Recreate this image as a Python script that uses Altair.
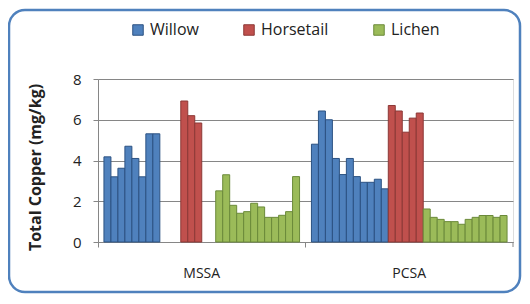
import altair as alt
import pandas as pd

sites = ["MSSA", "PCSA"]
plants = ["Willow", "Horsetail", "Lichen"]
fill_colors = ["#4F81BD", "#C0504D", "#9BBB59"]
stroke_colors = ["#2C5282", "#8C3836", "#6B8A3A"]

# slot positions (1..28) of each group inside a site cluster
mssa_willow_slots = [1, 2, 3, 4, 5, 6, 7, 8]
mssa_willow = [4.18, 3.2, 3.62, 4.7, 4.1, 3.2, 5.31, 5.31]
mssa_horsetail_slots = [12, 13, 14]
mssa_horsetail = [6.92, 6.2, 5.84]
mssa_lichen_slots = [17, 18, 19, 20, 21, 22, 23, 24, 25, 26, 27, 28]
mssa_lichen = [2.51, 3.3, 1.8, 1.41, 1.49, 1.9, 1.72, 1.21, 1.21, 1.31, 1.49, 3.21]

pcsa_willow_slots = [1, 2, 3, 4, 5, 6, 7, 8, 9, 10, 11]
pcsa_willow = [4.8, 6.43, 6.0, 4.1, 3.31, 4.1, 3.21, 2.93, 2.93, 3.08, 2.61]
pcsa_horsetail_slots = [12, 13, 14, 15, 16]
pcsa_horsetail = [6.7, 6.43, 5.39, 6.08, 6.33]
pcsa_lichen_slots = [17, 18, 19, 20, 21, 22, 23, 24, 25, 26, 27, 28]
pcsa_lichen = [1.62, 1.21, 1.11, 1.0, 1.0, 0.87, 1.11, 1.21, 1.3, 1.3, 1.21, 1.3]

all_slots = list(range(1, 29))
y_ticks = [0, 2, 4, 6, 8]

rows = []
groups = [
    ("MSSA", "Willow", mssa_willow_slots, mssa_willow),
    ("MSSA", "Horsetail", mssa_horsetail_slots, mssa_horsetail),
    ("MSSA", "Lichen", mssa_lichen_slots, mssa_lichen),
    ("PCSA", "Willow", pcsa_willow_slots, pcsa_willow),
    ("PCSA", "Horsetail", pcsa_horsetail_slots, pcsa_horsetail),
    ("PCSA", "Lichen", pcsa_lichen_slots, pcsa_lichen),
]
for site, plant, slots, vals in groups:
    for s, v in zip(slots, vals):
        rows.append({"Site": site, "Plant": plant, "Slot": s, "Copper": v})
df = pd.DataFrame(rows)

W, H = 415, 163
FONT = "Open Sans"
GRID = "#868686"

x_enc = alt.X(
    "Site:N",
    scale=alt.Scale(domain=sites, paddingInner=0, paddingOuter=0),
    axis=alt.Axis(
        title=None, labelAngle=0, labelFontSize=14, labelFont=FONT,
        labelColor="#222222", labelPadding=19, tickSize=5, tickColor=GRID,
        domainColor=GRID, bandPosition=0, grid=False,
    ),
)

bars = alt.Chart(df).mark_bar(strokeWidth=1).encode(
    x=x_enc,
    xOffset=alt.XOffset(
        "Slot:O",
        scale=alt.Scale(domain=all_slots, paddingInner=0, paddingOuter=0.85),
    ),
    y=alt.Y(
        "Copper:Q",
        scale=alt.Scale(domain=[0, 8], nice=False),
        axis=alt.Axis(
            values=y_ticks, title="Total Copper (mg/kg)", titleFont=FONT,
            titleFontSize=16, titleFontWeight="bold", titleColor="#222222",
            titleAngle=270, titleBaseline="middle", titleX=-63, titleY=88,
            labelFont=FONT, labelFontSize=15, labelColor="#222222",
            labelPadding=12, tickSize=5, tickColor=GRID, domainColor=GRID,
            gridColor=GRID, gridWidth=1,
        ),
    ),
    fill=alt.Fill(
        "Plant:N",
        scale=alt.Scale(domain=plants, range=fill_colors),
        legend=alt.Legend(
            title=None, orient="none", direction="horizontal",
            legendX=32, legendY=-57, symbolType="square", symbolSize=110,
            symbolStrokeWidth=1, labelFont=FONT, labelFontSize=16,
            labelColor="#222222", columnPadding=42, labelOffset=4, padding=0,
        ),
    ),
    stroke=alt.Stroke(
        "Plant:N",
        scale=alt.Scale(domain=plants, range=stroke_colors),
        legend=None,
    ),
)

end_tick = alt.Chart(pd.DataFrame({"Site": ["PCSA"]})).mark_rule(
    color=GRID, strokeWidth=1
).encode(
    x=alt.X("Site:N", bandPosition=1),
    y=alt.value(H),
    y2=alt.value(H + 5),
)

border = alt.Chart(pd.DataFrame({"k": [0]})).mark_rect(
    fill="transparent", stroke="#4F81BD", strokeWidth=2.5, cornerRadius=16
).encode(
    x=alt.value(-89), x2=alt.value(W + 7),
    y=alt.value(-69), y2=alt.value(H + 50),
)

chart = alt.layer(border, bars, end_tick).properties(
    width=W, height=H,
    autosize=alt.AutoSizeParams(type="none"),
    padding={"left": 90, "top": 71, "right": 9, "bottom": 52},
).configure_view(stroke=None).configure(background="white")

chart.save("out.html", embed_options={"renderer": "svg", "actions": False})
